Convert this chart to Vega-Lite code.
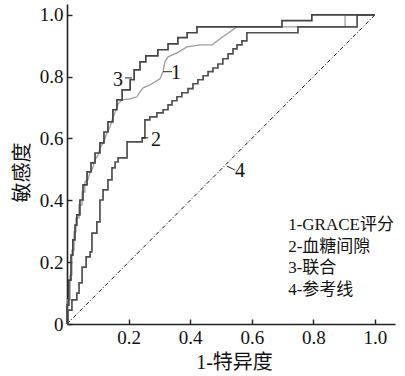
{
  "$schema": "https://vega.github.io/schema/vega-lite/v6.json",
  "width": 328,
  "height": 320,
  "autosize": {"type": "none"},
  "padding": {"left": 67, "top": 4, "right": 10, "bottom": 52},
  "background": "white",
  "config": {
    "view": {"stroke": null},
    "font": "Liberation Serif, Noto Sans CJK SC",
    "axis": {
      "grid": false,
      "domainColor": "#222",
      "domainWidth": 1.6,
      "tickColor": "#222",
      "tickWidth": 1.4,
      "tickSize": -5,
      "labelPadding": 9,
      "labelFont": "Liberation Serif",
      "labelFontSize": 19,
      "labelColor": "#111",
      "titleFont": "Liberation Serif, Noto Sans CJK SC",
      "titleFontSize": 20,
      "titleFontWeight": "normal",
      "titleColor": "#111"
    }
  },
  "datasets": {
    "c3": [
      {"x": 0, "y": 0}, {"x": 0, "y": 0.061}, {"x": 0.006, "y": 0.142}, {"x": 0.013, "y": 0.223},
      {"x": 0.019, "y": 0.272}, {"x": 0.026, "y": 0.32}, {"x": 0.032, "y": 0.353}, {"x": 0.042, "y": 0.401},
      {"x": 0.052, "y": 0.45}, {"x": 0.065, "y": 0.492}, {"x": 0.078, "y": 0.521}, {"x": 0.091, "y": 0.553},
      {"x": 0.107, "y": 0.586}, {"x": 0.12, "y": 0.621}, {"x": 0.133, "y": 0.654}, {"x": 0.149, "y": 0.693},
      {"x": 0.162, "y": 0.725}, {"x": 0.179, "y": 0.757}, {"x": 0.205, "y": 0.79}, {"x": 0.218, "y": 0.822},
      {"x": 0.237, "y": 0.848}, {"x": 0.256, "y": 0.867}, {"x": 0.295, "y": 0.887}, {"x": 0.328, "y": 0.906},
      {"x": 0.36, "y": 0.926}, {"x": 0.39, "y": 0.942}, {"x": 0.422, "y": 0.961}, {"x": 0.698, "y": 0.981},
      {"x": 0.795, "y": 1.0}, {"x": 1, "y": 1}
    ],
    "c2": [
      {"x": 0, "y": 0}, {"x": 0.003, "y": 0.045}, {"x": 0.016, "y": 0.078}, {"x": 0.032, "y": 0.1},
      {"x": 0.039, "y": 0.133}, {"x": 0.049, "y": 0.184}, {"x": 0.062, "y": 0.217}, {"x": 0.075, "y": 0.233},
      {"x": 0.081, "y": 0.294}, {"x": 0.097, "y": 0.33}, {"x": 0.107, "y": 0.401}, {"x": 0.117, "y": 0.434},
      {"x": 0.133, "y": 0.466}, {"x": 0.146, "y": 0.505}, {"x": 0.156, "y": 0.524}, {"x": 0.166, "y": 0.537},
      {"x": 0.195, "y": 0.589}, {"x": 0.244, "y": 0.602}, {"x": 0.253, "y": 0.66}, {"x": 0.269, "y": 0.67},
      {"x": 0.292, "y": 0.683}, {"x": 0.312, "y": 0.693}, {"x": 0.328, "y": 0.709}, {"x": 0.341, "y": 0.722},
      {"x": 0.357, "y": 0.735}, {"x": 0.373, "y": 0.748}, {"x": 0.393, "y": 0.761}, {"x": 0.409, "y": 0.777},
      {"x": 0.425, "y": 0.79}, {"x": 0.442, "y": 0.803}, {"x": 0.458, "y": 0.816}, {"x": 0.474, "y": 0.828},
      {"x": 0.49, "y": 0.841}, {"x": 0.506, "y": 0.858}, {"x": 0.523, "y": 0.874}, {"x": 0.539, "y": 0.89},
      {"x": 0.552, "y": 0.903}, {"x": 0.568, "y": 0.916}, {"x": 0.584, "y": 0.942}, {"x": 0.75, "y": 0.961},
      {"x": 0.942, "y": 1.0}, {"x": 1, "y": 1}
    ],
    "c1": [
      {"x": 0, "y": 0}, {"x": 0, "y": 0.078}, {"x": 0.01, "y": 0.078}, {"x": 0.01, "y": 0.159},
      {"x": 0.016, "y": 0.159}, {"x": 0.016, "y": 0.239}, {"x": 0.023, "y": 0.239}, {"x": 0.023, "y": 0.298},
      {"x": 0.029, "y": 0.298}, {"x": 0.029, "y": 0.343}, {"x": 0.039, "y": 0.343}, {"x": 0.039, "y": 0.385},
      {"x": 0.049, "y": 0.385}, {"x": 0.049, "y": 0.427}, {"x": 0.058, "y": 0.427}, {"x": 0.058, "y": 0.46},
      {"x": 0.068, "y": 0.466}, {"x": 0.075, "y": 0.492}, {"x": 0.084, "y": 0.505}, {"x": 0.091, "y": 0.531},
      {"x": 0.101, "y": 0.547}, {"x": 0.107, "y": 0.57}, {"x": 0.12, "y": 0.589}, {"x": 0.13, "y": 0.621},
      {"x": 0.14, "y": 0.638}, {"x": 0.149, "y": 0.667}, {"x": 0.159, "y": 0.693}, {"x": 0.166, "y": 0.712},
      {"x": 0.179, "y": 0.725}, {"x": 0.205, "y": 0.728}, {"x": 0.227, "y": 0.735}, {"x": 0.237, "y": 0.751},
      {"x": 0.247, "y": 0.764}, {"x": 0.269, "y": 0.773}, {"x": 0.302, "y": 0.793}, {"x": 0.312, "y": 0.816},
      {"x": 0.318, "y": 0.848}, {"x": 0.328, "y": 0.864}, {"x": 0.357, "y": 0.877}, {"x": 0.39, "y": 0.896},
      {"x": 0.432, "y": 0.903}, {"x": 0.471, "y": 0.903}, {"x": 0.506, "y": 0.929}, {"x": 0.552, "y": 0.961},
      {"x": 0.903, "y": 0.961}, {"x": 0.903, "y": 1.0}, {"x": 1, "y": 1}
    ]
  },
  "encoding": {
    "x": {
      "field": "x", "type": "quantitative",
      "scale": {"domain": [0, 1.065], "nice": false, "zero": false},
      "axis": {
        "title": "1-特异度",
        "values": [0.2, 0.4, 0.6, 0.8, 1.0],
        "format": ".1f",
        "titleX": 167,
        "titleY": 38,
        "titleBaseline": "middle",
        "titleAnchor": "middle"
      }
    },
    "y": {
      "field": "y", "type": "quantitative",
      "scale": {"domain": [0, 1.035], "nice": false, "zero": false},
      "axis": {
        "title": "敏感度",
        "values": [0, 0.2, 0.4, 0.6, 0.8, 1.0],
        "labelExpr": "datum.value == 0 ? '0' : format(datum.value, '.1f')",
        "titleX": -45,
        "titleY": 168,
        "titleBaseline": "middle",
        "titleAngle": -90
      }
    }
  },
  "layer": [
    {
      "data": {"values": [{"x": 0, "y": 0}, {"x": 1, "y": 1}]},
      "mark": {"type": "line", "color": "#111", "strokeWidth": 1, "strokeDash": [4, 2, 1, 2]},
      "encoding": {}
    },
    {
      "data": {"name": "c1"},
      "mark": {"type": "line", "color": "#9c9c9c", "strokeWidth": 1.3, "interpolate": "linear"},
      "encoding": {"order": {"value": null}}
    },
    {
      "data": {"name": "c2"},
      "mark": {"type": "line", "color": "#505050", "strokeWidth": 1.7, "interpolate": "step-after"},
      "encoding": {"order": {"value": null}}
    },
    {
      "data": {"name": "c3"},
      "mark": {"type": "line", "color": "#444444", "strokeWidth": 1.7, "interpolate": "step-after"},
      "encoding": {"order": {"value": null}}
    },
    {
      "data": {"values": [
        {"x": 0.188, "y": 0.796, "x2": 0.211, "y2": 0.796},
        {"x": 0.312, "y": 0.816, "x2": 0.341, "y2": 0.816},
        {"x": 0.244, "y": 0.602, "x2": 0.263, "y2": 0.602},
        {"x": 0.519, "y": 0.511, "x2": 0.545, "y2": 0.498}
      ]},
      "mark": {"type": "rule", "color": "#222", "strokeWidth": 1},
      "encoding": {"x2": {"field": "x2"}, "y2": {"field": "y2"}}
    },
    {
      "data": {"values": [
        {"x": 0.166, "y": 0.79, "t": "3"},
        {"x": 0.354, "y": 0.812, "t": "1"},
        {"x": 0.289, "y": 0.595, "t": "2"},
        {"x": 0.562, "y": 0.495, "t": "4"}
      ]},
      "mark": {"type": "text", "font": "Liberation Serif", "fontSize": 20, "color": "#111", "align": "center", "baseline": "middle"},
      "encoding": {"text": {"field": "t"}}
    },
    {
      "data": {"values": [
        {"x": 0.718, "y": 0.32, "t": "1-GRACE评分"},
        {"x": 0.718, "y": 0.249, "t": "2-血糖间隙"},
        {"x": 0.718, "y": 0.181, "t": "3-联合"},
        {"x": 0.718, "y": 0.11, "t": "4-参考线"}
      ]},
      "mark": {"type": "text", "font": "Liberation Serif, Noto Sans CJK SC", "fontSize": 17, "color": "#111", "align": "left", "baseline": "middle"},
      "encoding": {"text": {"field": "t"}}
    }
  ]
}
